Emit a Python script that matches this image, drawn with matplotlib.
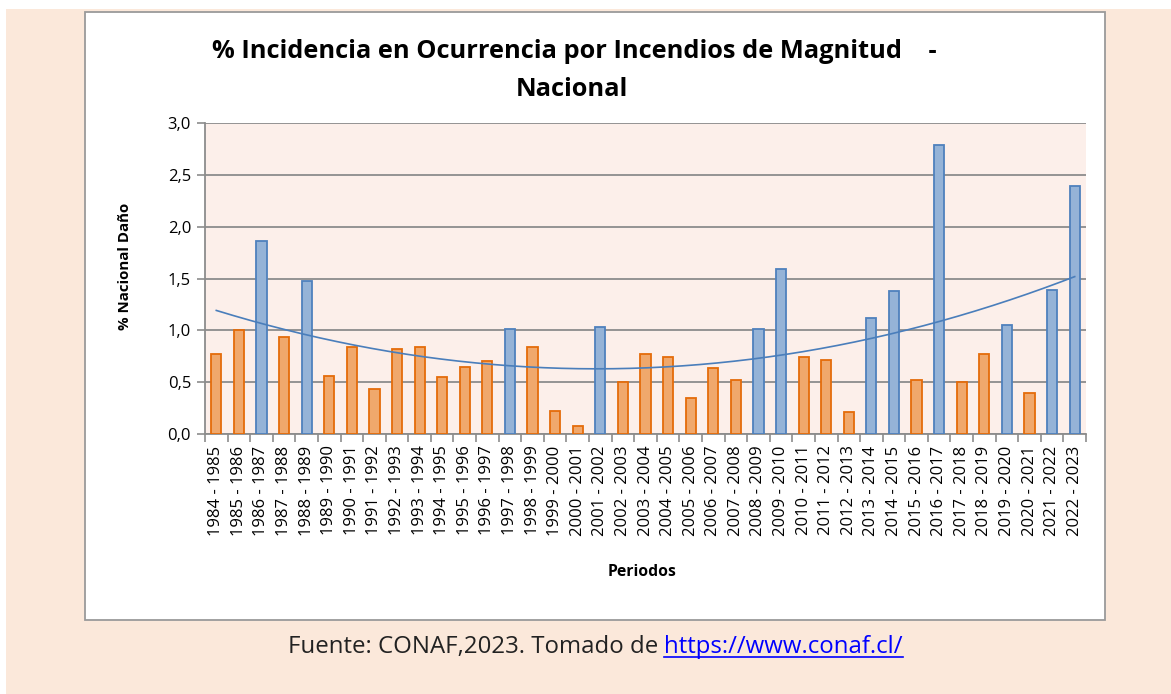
import numpy as np
import matplotlib
matplotlib.use("Agg")
import matplotlib.pyplot as plt
from matplotlib.patches import Rectangle
from matplotlib.lines import Line2D

# periodos y % de daño nacional
periodos = [f"{a} - {a + 1}" for a in range(1984, 2023)]
valores = [0.77, 1.00, 1.86, 0.94, 1.48, 0.56, 0.84, 0.44, 0.82, 0.84,
           0.55, 0.65, 0.71, 1.01, 0.84, 0.22, 0.08, 1.03, 0.50, 0.77,
           0.74, 0.35, 0.64, 0.52, 1.01, 1.59, 0.74, 0.72, 0.21, 1.12,
           1.38, 0.52, 2.79, 0.50, 0.77, 1.05, 0.40, 1.39, 2.39]
# temporadas con incendios de magnitud (barras azules)
magnitud = ["1986 - 1987", "1988 - 1989", "1997 - 1998", "2001 - 2002",
            "2008 - 2009", "2009 - 2010", "2013 - 2014", "2014 - 2015",
            "2016 - 2017", "2019 - 2020", "2021 - 2022", "2022 - 2023"]
yticks = [0.0, 0.5, 1.0, 1.5, 2.0, 2.5, 3.0]

W, H = 1171, 694
fig = plt.figure(figsize=(W / 100, H / 100), dpi=100)
fig.patch.set_facecolor("white")

def fx(px):
    return px / W

def fy(py):
    return 1 - py / H

# fondo y marco del grafico
fig.patches.append(Rectangle((fx(6), 0), 1, fy(9), transform=fig.transFigure,
                             facecolor="#fbe8da", edgecolor="none", zorder=-3))
fig.patches.append(Rectangle((fx(85), fy(620)), fx(1105 - 85), (620 - 12) / H,
                             transform=fig.transFigure, facecolor="white",
                             edgecolor="#9a9a9a", lw=1.3, zorder=-2))

ax = fig.add_axes([fx(205), fy(434.3), fx(1086 - 205), (434.3 - 122.7) / H])
ax.set_facecolor("#fcefea")

x = np.arange(len(periodos))
azul = [p in magnitud for p in periodos]
fill = ["#95b3d7" if b else "#f0a86c" for b in azul]
edge = ["#4f81bd" if b else "#e46c0a" for b in azul]
ax.bar(x, valores, width=0.45, color=fill, edgecolor=edge, linewidth=1.3, zorder=3)

# linea de tendencia polinomica (grado 2)
coef = np.polyfit(x + 1, valores, 2)
xt = np.linspace(0, len(x) - 1, 200)
ax.plot(xt, np.polyval(coef, xt + 1), color="#4a7ebb", lw=1.2, zorder=4)

ax.set_xlim(-0.5, len(x) - 0.5)
ax.set_ylim(0, 3.0)
ax.set_yticks(yticks)
ax.set_yticklabels([f"{v:.1f}".replace(".", ",") for v in yticks],
                   fontsize=12, family="Open Sans")
ax.yaxis.grid(True, color="#8c8c8c", lw=1.3, zorder=1)
ax.set_axisbelow(True)

ax.set_xticks(x)
ax.set_xticklabels(periodos, rotation=90, fontsize=12, family="Open Sans")
ax.set_xticks(np.arange(-0.5, len(x)), minor=True)
ax.tick_params(axis="x", which="major", length=0, pad=8)
ax.tick_params(axis="x", which="minor", length=6, color="#8c8c8c", width=1.2)
ax.tick_params(axis="y", length=6, color="#8c8c8c", width=1.2, pad=4)

for s in ["top", "right"]:
    ax.spines[s].set_visible(False)
for s in ["left", "bottom"]:
    ax.spines[s].set_color("#8c8c8c")
    ax.spines[s].set_linewidth(1.3)

fig.text(fx(125), fy(266), "% Nacional Daño", ha="center", va="center", rotation=90,
         fontsize=10.8, fontweight="bold", family="Open Sans")
fig.text(fx(642), fy(572), "Periodos", ha="center", va="center",
         fontsize=11.3, fontweight="bold", family="Open Sans")

fig.text(fx(574), fy(52), "% Incidencia en Ocurrencia por Incendios de Magnitud    -",
         ha="center", va="center", fontsize=18.3, fontweight="bold", family="Open Sans")
fig.text(fx(572), fy(89), "Nacional", ha="center", va="center",
         fontsize=18.3, fontweight="bold", family="Open Sans")

# pie de figura con enlace
fig.text(fx(658), fy(647), "Fuente: CONAF,2023. Tomado de", ha="right", va="center",
         fontsize=17.3, family="Open Sans", color="#222222")
link = fig.text(fx(664), fy(647), "https://www.conaf.cl/", ha="left", va="center",
                fontsize=17.3, family="Open Sans", color="#0000ff")
fig.canvas.draw()
bb = link.get_window_extent(fig.canvas.get_renderer())
uy = bb.y0 + 2
fig.add_artist(Line2D([bb.x0 / W, bb.x1 / W], [uy / H, uy / H],
                      transform=fig.transFigure, color="#0000ff", lw=1.2))

fig.savefig("out.png", dpi=100)
